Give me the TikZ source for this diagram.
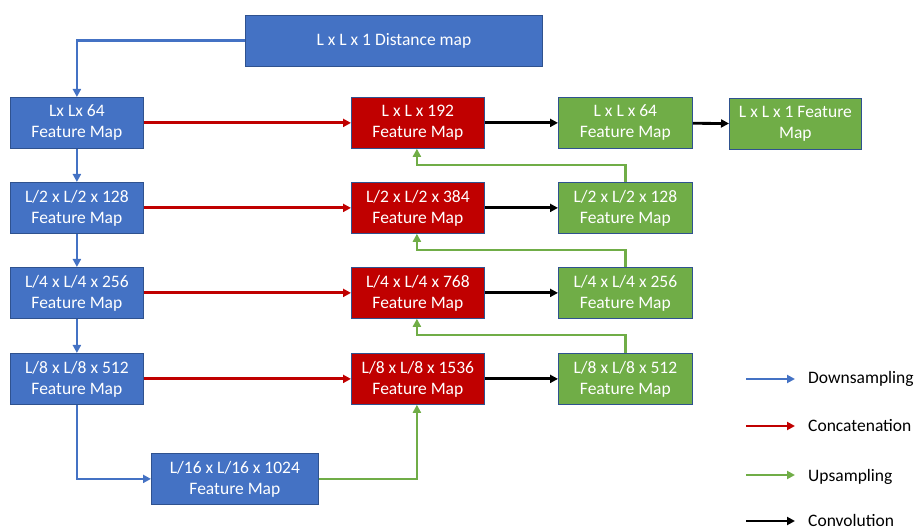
\documentclass[tikz,border=0pt]{standalone}
\usepackage{fontspec}
\setmainfont{Carlito}
\usetikzlibrary{arrows.meta}
\definecolor{cblue}{HTML}{4472C4}
\definecolor{cbluedark}{HTML}{2F528F}
\definecolor{cred}{HTML}{C00000}
\definecolor{cgreen}{HTML}{70AD47}
\begin{document}
\begin{tikzpicture}[x=1pt,y=-1pt,
  box/.style={draw=cbluedark, line width=0.8pt, text=white, align=center, font=\fontsize{17.5}{21}\selectfont, inner sep=0pt, anchor=north west},
  bbox/.style={box, fill=cblue},
  rbox/.style={box, fill=cred},
  gbox/.style={box, fill=cgreen},
  arr/.style={line width=2.8pt, -{Triangle[length=8pt,width=8pt]}},
  down/.style={arr, cblue},
  cat/.style={arr, cred},
  up/.style={arr, cgreen},
  conv/.style={arr, black},
  leg/.style={font=\fontsize{17.5}{21}\selectfont, anchor=west, inner sep=0pt}
]
\useasboundingbox (0,0) rectangle (919,529);
% blue column
\node[bbox, minimum width=297pt, minimum height=51pt] (dm) at (245,15) {L x L x 1 Distance map};
\node[bbox, minimum width=133pt, minimum height=51pt] (b1) at (10,97) {Lx Lx 64\\Feature Map};
\node[bbox, minimum width=133pt, minimum height=51pt] (b2) at (10,182) {L/2 x L/2 x 128\\Feature Map};
\node[bbox, minimum width=133pt, minimum height=51pt] (b3) at (10,267) {L/4 x L/4 x 256\\Feature Map};
\node[bbox, minimum width=133pt, minimum height=51pt] (b4) at (10,353) {L/8 x L/8 x 512\\Feature Map};
\node[bbox, minimum width=167pt, minimum height=51pt] (b5) at (151,453) {L/16 x L/16 x 1024\\Feature Map};
% red column
\node[rbox, minimum width=133pt, minimum height=51pt] (r1) at (351,97) {L x L x 192\\Feature Map};
\node[rbox, minimum width=133pt, minimum height=51pt] (r2) at (351,182) {L/2 x L/2 x 384\\Feature Map};
\node[rbox, minimum width=133pt, minimum height=51pt] (r3) at (351,267) {L/4 x L/4 x 768\\Feature Map};
\node[rbox, minimum width=133pt, minimum height=51pt] (r4) at (351,353) {L/8 x L/8 x 1536\\Feature Map};
% green column
\node[gbox, minimum width=134pt, minimum height=51pt] (g1) at (558,97) {L x L x 64\\Feature Map};
\node[gbox, minimum width=134pt, minimum height=51pt] (g2) at (558,182) {L/2 x L/2 x 128\\Feature Map};
\node[gbox, minimum width=134pt, minimum height=51pt] (g3) at (558,267) {L/4 x L/4 x 256\\Feature Map};
\node[gbox, minimum width=134pt, minimum height=51pt] (g4) at (558,353) {L/8 x L/8 x 512\\Feature Map};
\node[gbox, minimum width=132pt, minimum height=51pt] (g0) at (729,98) {L x L x 1 Feature\\Map};
% downsampling
\draw[down] (dm.west) -| (b1.north);
\draw[down] (b1) -- (b2);
\draw[down] (b2) -- (b3);
\draw[down] (b3) -- (b4);
\draw[down] (b4.south) |- (b5.west);
% concatenation
\draw[cat] (b1) -- (r1);
\draw[cat] (b2) -- (r2);
\draw[cat] (b3) -- (r3);
\draw[cat] (b4) -- (r4);
% convolution
\draw[conv] (r1) -- (g1);
\draw[conv] (r2) -- (g2);
\draw[conv] (r3) -- (g3);
\draw[conv] (r4) -- (g4);
\draw[conv] (g1) -- (g0);
% upsampling
\draw[up] (g2.north) -- ++(0,-17) -| ([xshift=-1pt]r1.south);
\draw[up] (g3.north) -- ++(0,-17) -| ([xshift=-1pt]r2.south);
\draw[up] (g4.north) -- ++(0,-18) -| ([xshift=-1pt]r3.south);
\draw[up] (b5.east) -| ([xshift=-1pt]r4.south);
% legend
\coordinate (l1a) at (746,379); \coordinate (l1b) at (795,379);
\coordinate (l2a) at (746,426); \coordinate (l2b) at (795,426);
\coordinate (l3a) at (746,475); \coordinate (l3b) at (795,475);
\coordinate (l4a) at (746,521); \coordinate (l4b) at (795,521);
\draw[down] (l1a) -- (l1b);
\draw[cat] (l2a) -- (l2b);
\draw[up] (l3a) -- (l3b);
\draw[conv] (l4a) -- (l4b);
\node[leg] (t1) at (808,379) {Downsampling};
\node[leg] (t2) at (808,426) {Concatenation};
\node[leg] (t3) at (808,477) {Upsampling};
\node[leg] (t4) at (808,520) {Convolution};
\end{tikzpicture}
\end{document}
